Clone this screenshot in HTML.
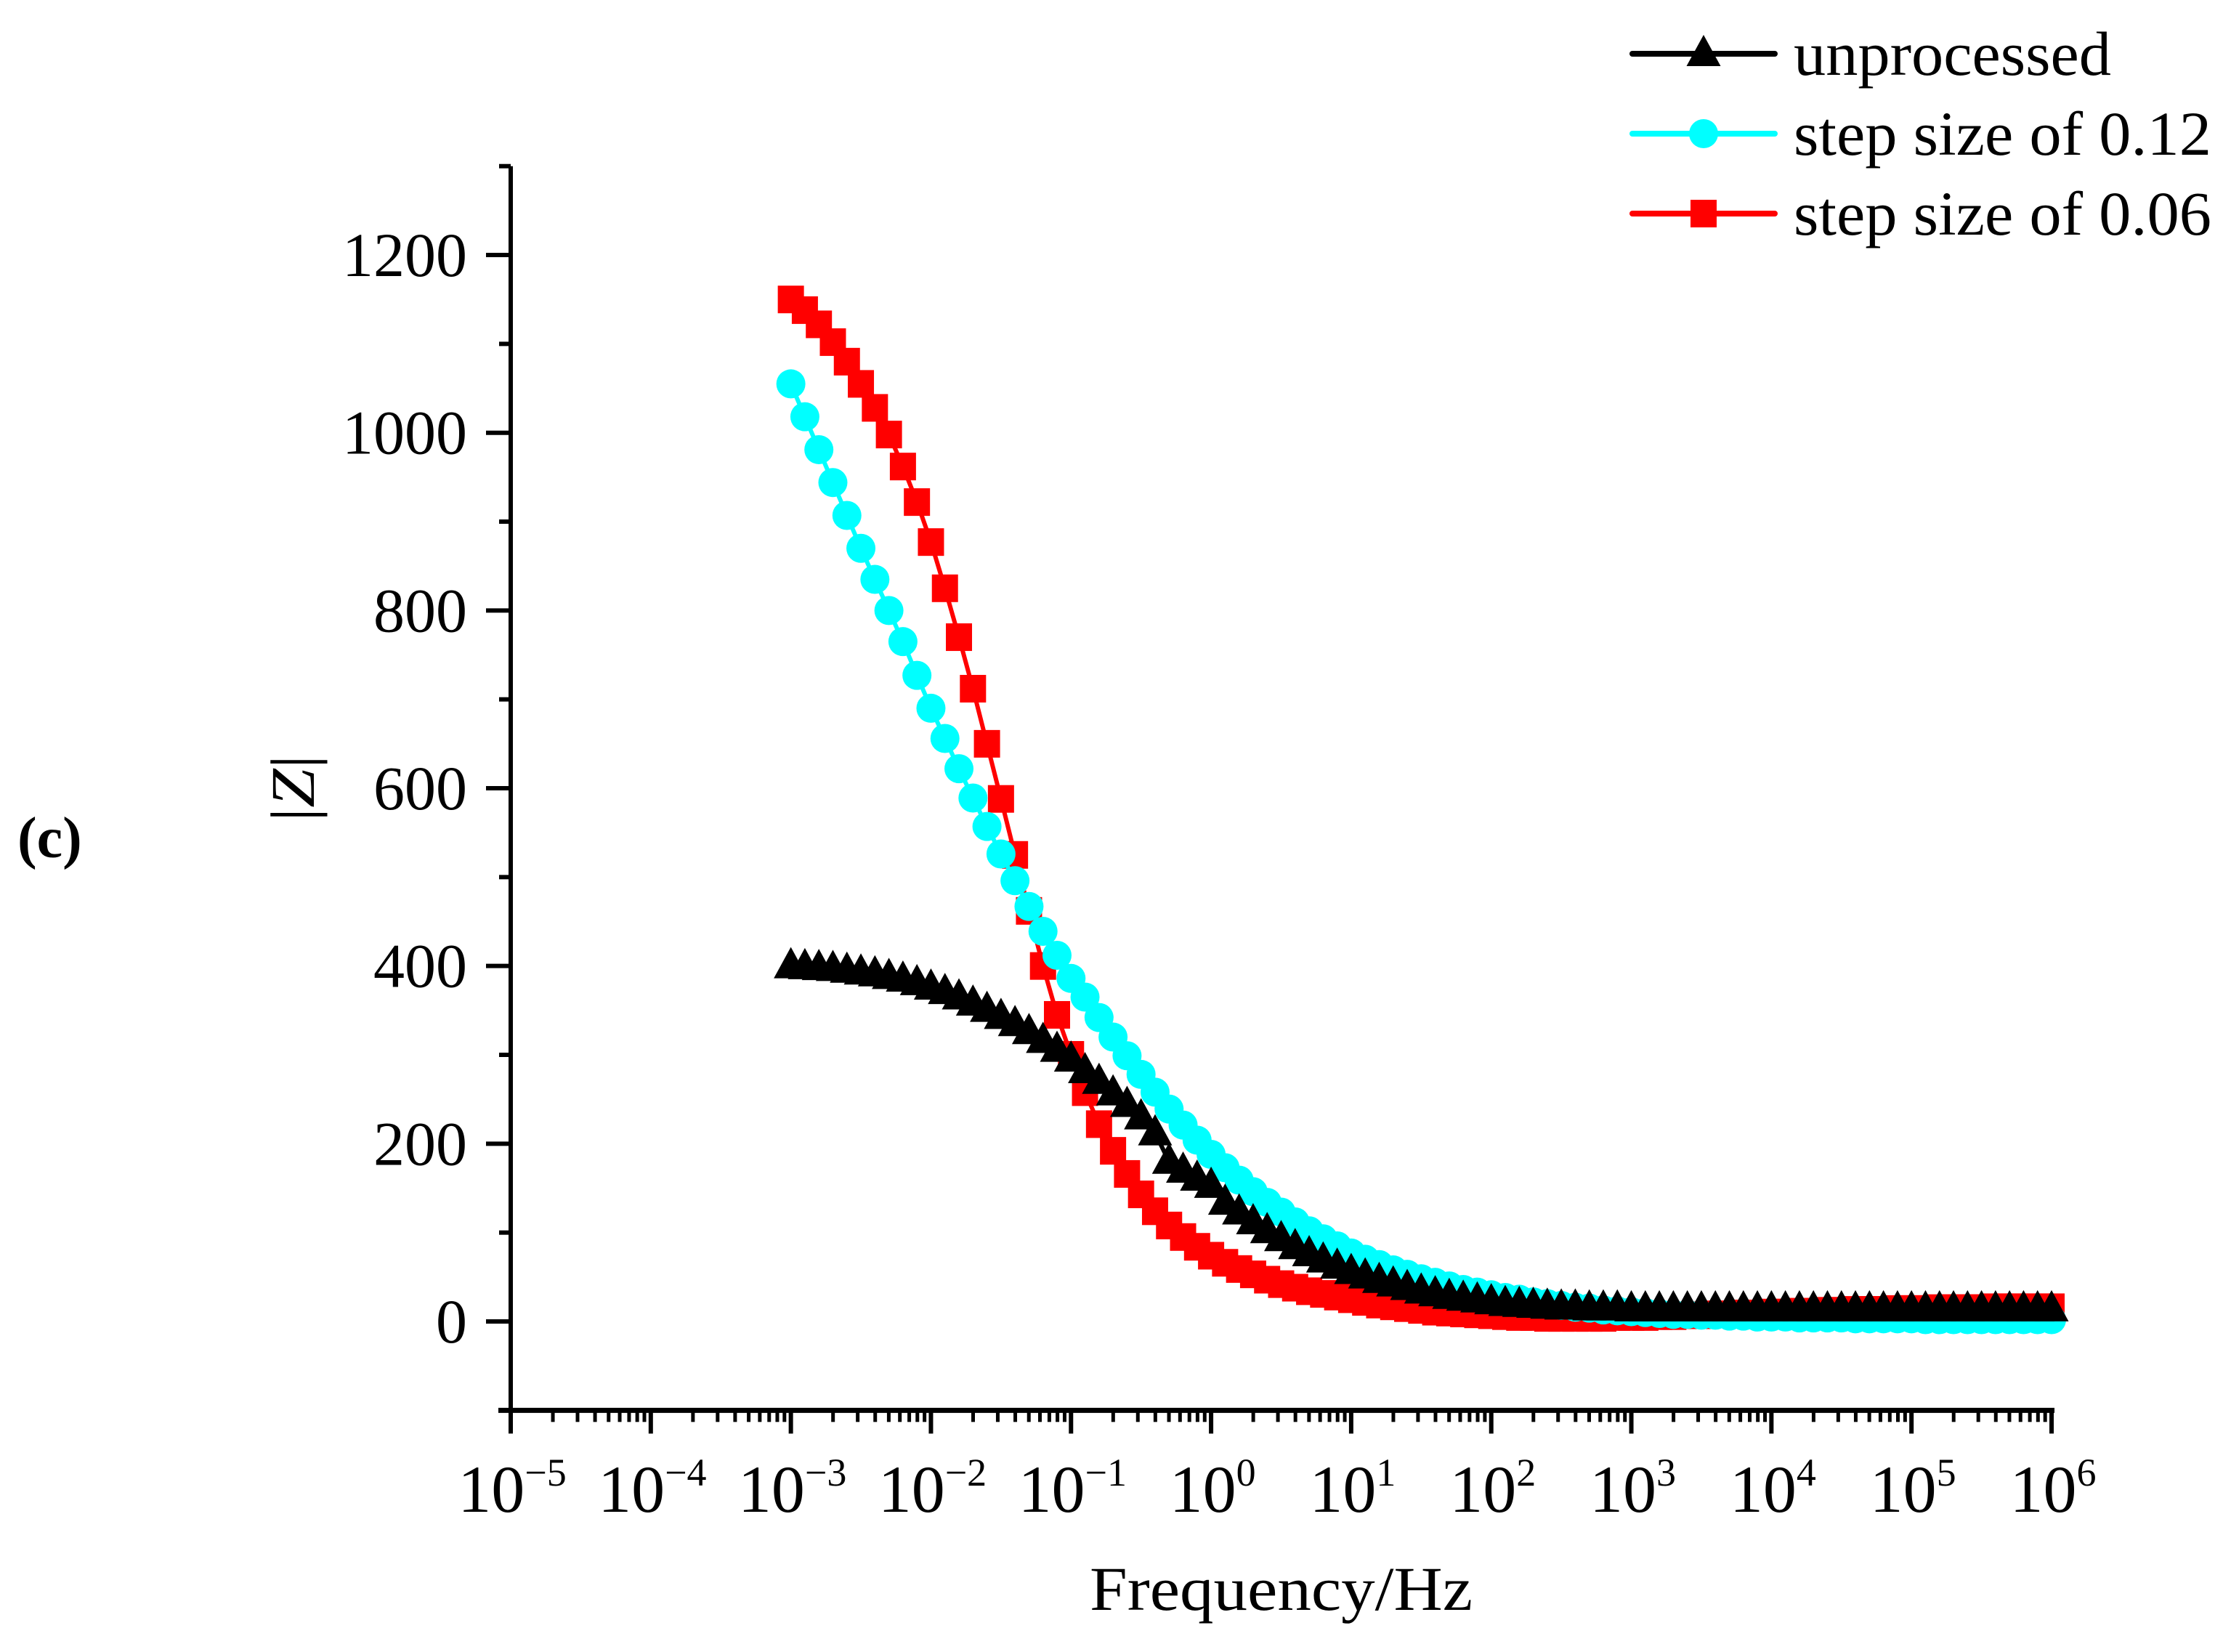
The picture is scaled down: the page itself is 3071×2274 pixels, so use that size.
<!DOCTYPE html>
<html><head><meta charset="utf-8"><style>
html,body{margin:0;padding:0;background:#fff;}
svg{display:block;}
text{font-family:"Liberation Serif",serif;fill:#000;}
</style></head><body>
<svg id="chart" width="3071" height="2274" viewBox="0 0 3071 2274" xmlns="http://www.w3.org/2000/svg">
<g id="axes"></g>
<g id="series"></g>
<text x="24" y="1180" font-size="80" font-weight="bold">(c)</text>
<text transform="translate(432,1085) rotate(-90)" text-anchor="middle" font-size="86" textLength="92" lengthAdjust="spacingAndGlyphs">|<tspan font-style="italic">Z</tspan>|</text>
<text x="1500" y="2216" font-size="86" textLength="527" lengthAdjust="spacingAndGlyphs">Frequency/Hz</text>
<g id="legend"></g>
</svg>
<script>
const logFreq = [-3.0,-2.9,-2.8,-2.7,-2.6,-2.5,-2.4,-2.3,-2.2,-2.1,-2.0,-1.9,-1.8,-1.7,-1.6,-1.5,-1.4,-1.3,-1.2,-1.1,-1.0,-0.9,-0.8,-0.7,-0.6,-0.5,-0.4,-0.3,-0.2,-0.1,0.0,0.1,0.2,0.3,0.4,0.5,0.6,0.7,0.8,0.9,1.0,1.1,1.2,1.3,1.4,1.5,1.6,1.7,1.8,1.9,2.0,2.1,2.2,2.3,2.4,2.5,2.6,2.7,2.8,2.9,3.0,3.1,3.2,3.3,3.4,3.5,3.6,3.7,3.8,3.9,4.0,4.1,4.2,4.3,4.4,4.5,4.6,4.7,4.8,4.9,5.0,5.1,5.2,5.3,5.4,5.5,5.6,5.7,5.8,5.9,6.0];
const unprocessed = [400,399,398,397,395,393,391,388,385,381,376,371,365,358,351,343,335,326,316,306,295,282,270,257,244,230,212,180,170,161,153,134,123,112,102,93,84,76,69,62,56,51,46,42,38,34,31,28,26,24,22,20,19,18,17,16,16,15,15,15,14,14,14,14,14,14,14,14,14,14,14,14,14,14,14,14,14,14,14,14,14,14,14,14,14,14,14,14,14,14,14];
const step012 = [1055,1018,981,944,907,870,835,800,765,727,690,656,622,589,557,526,496,467,439,412,386,365,342,320,299,278,258,239,221,204,188,173,159,146,134,123,112,102,93,85,77,70,64,58,53,48,44,40,36,33,30,27,25,22,20,18,16,15,13,12,11,10,9,8,8,7,7,6,6,5,5,5,4,4,4,4,3,3,3,3,3,2,2,2,2,2,2,2,2,2,2];
const step006 = [1150,1138,1122,1102,1080,1055,1028,998,962,922,877,825,770,712,650,588,525,462,400,345,300,258,222,192,166,143,124,108,95,84,74,66,59,53,47,42,38,34,31,28,25,22,19,17,15,13,11,10,9,8,7,6,5,5,4,4,4,4,4,5,5,5,6,6,7,7,8,8,9,9,10,10,11,11,12,12,13,13,13,14,14,14,15,15,15,15,16,16,16,16,16];
const yTicks = [0,200,400,600,800,1000,1200];
const xTickExps = [-5,-4,-3,-2,-1,0,1,2,3,4,5,6];

const NS="http://www.w3.org/2000/svg";
const X0=703, X1=2824, XMIN=-5, XMAX=6;
const Y0=1819, PER=1.2233;
function xs(e){return X0+(e-XMIN)*(X1-X0)/(XMAX-XMIN);}
function ys(v){return Y0-v*PER;}
function mk(tag,attrs,parent){const el=document.createElementNS(NS,tag);for(const k in attrs)el.setAttribute(k,attrs[k]);parent.appendChild(el);return el;}
const axes=document.getElementById('axes');
const yTop=ys(1300), yBot=ys(-100);
let el;
el=mk('line',{x1:X0,y1:yTop,x2:X0,y2:yBot+3,stroke:'#000','stroke-width':6},axes);


el=mk('line',{x1:686,y1:yBot,x2:X1+4,y2:yBot,stroke:'#000','stroke-width':7},axes);


for(let v=-100; v<=1300; v+=100){
  const major = yTicks.includes(v);
  el=mk('line',{x1:X0-(major?34:16),y1:ys(v),x2:X0,y2:ys(v),stroke:'#000','stroke-width':6},axes);
  
  
}
yTicks.forEach(v=>{
  el=mk('text',{x:643,y:ys(v)+29,'text-anchor':'end','font-size':86},axes);
  el.textContent=String(v);
  
  
});
xTickExps.forEach((e,i)=>{
  el=mk('line',{x1:xs(e),y1:yBot,x2:xs(e),y2:yBot+32,stroke:'#000','stroke-width':6},axes);
  
  
  if(i<xTickExps.length-1){
    for(let m=2;m<=9;m++){
      el=mk('line',{x1:xs(e+Math.log10(m)),y1:yBot,x2:xs(e+Math.log10(m)),y2:yBot+16,stroke:'#000','stroke-width':5},axes);
      
      
    }
  }
  const t=mk('text',{x:xs(e)+2,y:2081,'text-anchor':'middle','font-size':92},axes);
  
  
  const a=mk('tspan',{},t); a.textContent='10';
  const b=mk('tspan',{dy:-36,'font-size':54},t); b.textContent=(e<0?'\u2212':'')+Math.abs(e);
});

const series=document.getElementById('series');
function marker(g,type,x,y,color){
  let m;
  if(type==='tri') m=mk('polygon',{points:`${x},${y-26} ${x-23.5},${y+17} ${x+23.5},${y+17}`,fill:color},g);
  else if(type==='circ') m=mk('circle',{cx:x,cy:y,r:20,fill:color},g);
  else m=mk('rect',{x:x-18,y:y-19,width:36,height:38,fill:color},g);
  return m;
}
function drawSeries(name,vals,color,type){
  const g=mk('g',{},series);
  
  
  const pts=vals.map((v,i)=>xs(logFreq[i]).toFixed(1)+','+ys(v).toFixed(1)).join(' ');
  const pl=mk('polyline',{points:pts,fill:'none',stroke:color,'stroke-width':6},g);
  
  
  vals.forEach((v,i)=>{
    const m=marker(g,type,xs(logFreq[i]),ys(v),color);
    
    
  });
}
drawSeries('step-0-06',step006,'#ff0000','sq');
drawSeries('step-0-12',step012,'#00ffff','circ');
drawSeries('unprocessed',unprocessed,'#000000','tri');

const legend=document.getElementById('legend');
const entries=[['unprocessed','#000000','tri',74,103],['step size of 0.12','#00ffff','circ',184,213],['step size of 0.06','#ff0000','sq',294,323]];
entries.forEach(en=>{
  const g=mk('g',{},legend);
  
  
  mk('line',{x1:2247,y1:en[3],x2:2443,y2:en[3],stroke:en[1],'stroke-width':8,'stroke-linecap':'round'},g);
  marker(g,en[2],2345,en[3],en[1]);
  const t=mk('text',{x:2469,y:en[4],'font-size':86},g);
  t.textContent=en[0];
  if(en[0]!=='unprocessed'){t.setAttribute('textLength','575');t.setAttribute('lengthAdjust','spacingAndGlyphs');}
  else {t.setAttribute('textLength','437');t.setAttribute('lengthAdjust','spacingAndGlyphs');}
});
</script>
</body></html>
